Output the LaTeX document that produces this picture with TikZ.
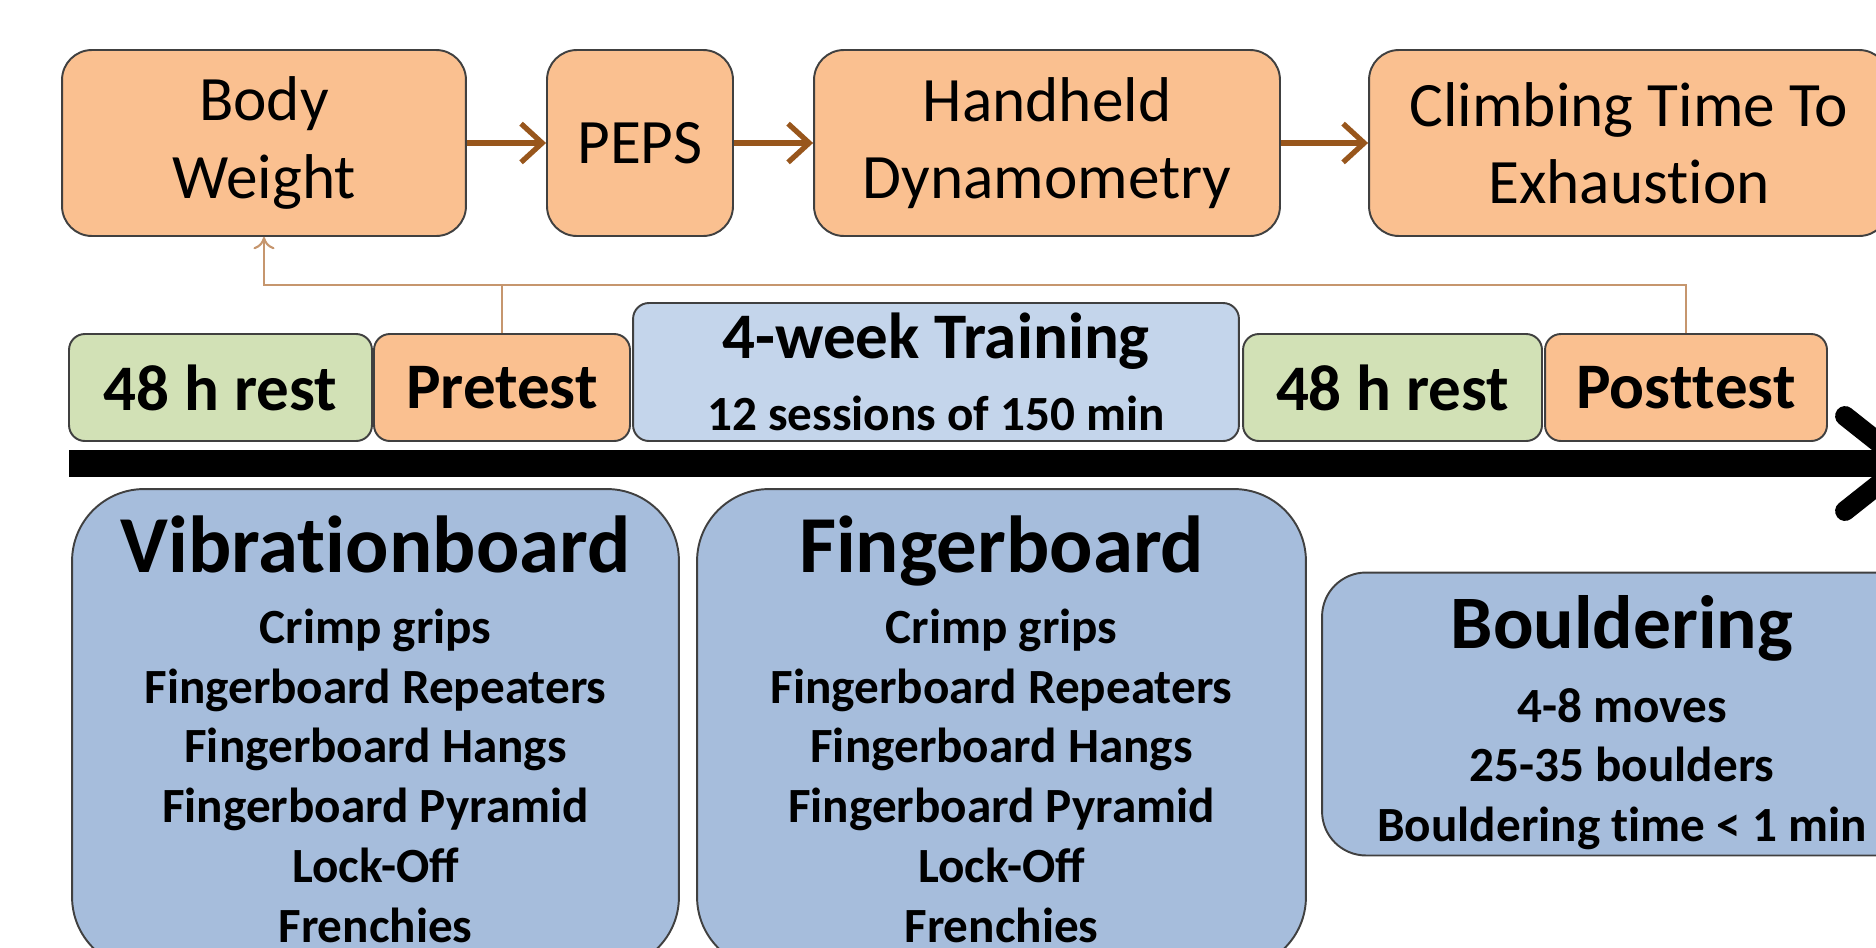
\documentclass[tikz,border=0pt]{standalone}
\usepackage{fontspec}
\setmainfont{Carlito}
\usetikzlibrary{arrows.meta}
\definecolor{testor}{RGB}{250,192,144}
\definecolor{restgr}{RGB}{210,225,182}
\definecolor{trainbl}{RGB}{196,213,235}
\definecolor{planbl}{RGB}{166,189,220}
\definecolor{arrbr}{RGB}{152,86,28}
\definecolor{fbbr}{RGB}{198,150,110}
\definecolor{rim}{RGB}{64,64,64}
% no t-i ligature
\newcommand{\nolig}{\kern0pt}

\begin{document}
\begin{tikzpicture}[x = 0.02cm, y = -0.02cm,
  box/.style = {draw = rim, line width = 1.1pt, align = center, inner sep = 0pt},
  measure/.style = {box, fill = testor, rounded corners = 17pt, minimum height = 3.72cm,
    font = \fontsize{36}{44}\selectfont},
  phase/.style = {box, rounded corners = 9pt, minimum height = 2.14cm,
    font = \fontsize{37}{44}\selectfont\bfseries},
  plan/.style = {box, fill = planbl, font = \fontsize{28}{34}\selectfont\bfseries},
  flow/.style = {draw = arrbr, line width = 3pt, -{Straight Barb[length = 12pt, width = 22pt]}},
  back/.style = {draw = fbbr, line width = 1.2pt}]
\useasboundingbox (0,0) rectangle (1876,947);
\clip (0,0) rectangle (1876,947);
% tests
\node[measure, minimum width = 8.08cm] (bw) at (264,143) {Body\\Weight};
\node[measure, minimum width = 3.72cm] (peps) at (640,143) {PEPS};
\node[measure, minimum width = 9.32cm] (hd) at (1047,143) {Handheld\\Dynamometry};
\node[measure, minimum width = 10.4cm] (cte) at (1629,143) {Climbing Time To\\Exhaust\nolig ion};
\draw[flow] (bw) -- (peps);
\draw[flow] (peps) -- (hd);
\draw[flow] (hd) -- (cte);
% time line
\node[phase, fill = restgr, minimum width = 6.06cm] (rest1) at (220.5,387.5) {48 h rest};
\node[phase, fill = testor, minimum width = 5.12cm] (pre) at (502,387.5) {Pretest};
\node[phase, fill = trainbl, minimum width = 12.12cm, minimum height = 2.76cm] (train) at (936,372)
  {4-week Training\\[-3pt]{\fontsize{28}{34}\selectfont 12 sessions of 150 min}};
\node[phase, fill = restgr, minimum width = 5.98cm] (rest2) at (1392.5,387.5) {48 h rest};
\node[phase, fill = testor, minimum width = 5.64cm] (post) at (1686,387.5) {Post\nolig t\nolig est};
\coordinate (fb) at (264,285);
\draw[back, -{To[length = 7pt, width = 12pt]}] (pre.north) |- (fb) -- (bw.south);
\draw[back] (pre.north |- fb) -| (post.north);
\coordinate (t0) at (69,463.5);
\coordinate (t1) at (1905,463.5);
\draw[line width = 15.3pt] (t0) -- (t1);
\draw[line width = 11.3pt, line cap = round, line join = round] (1845,416) -- (t1) -- (1845,511);
% training content
\node[plan, rounded corners = 41pt, minimum width = 12.14cm, minimum height = 9.6cm] (vib) at (375.5,729)
  {{\fontsize{46}{56}\selectfont Vibrat\nolig ionboard}\\[6.5pt] Crimp grips\\ Fingerboard Repeaters\\
   Fingerboard Hangs\\ Fingerboard Pyramid\\ Lock-Off\\ Frenchies};
\node[plan, rounded corners = 41pt, minimum width = 12.18cm, minimum height = 9.6cm] (fing) at (1001.5,729)
  {{\fontsize{46}{56}\selectfont Fingerboard}\\[6.5pt] Crimp grips\\ Fingerboard Repeaters\\
   Fingerboard Hangs\\ Fingerboard Pyramid\\ Lock-Off\\ Frenchies};
\node[plan, rounded corners = 25pt, minimum width = 12cm, minimum height = 5.66cm] (bould) at (1622,714)
  {{\fontsize{43}{52}\selectfont\rule{0pt}{40pt}Bouldering}\\[8pt] 4-8 moves\\ 25-35 boulders\\
   Bouldering t\nolig ime < 1 min};
\end{tikzpicture}
\end{document}
